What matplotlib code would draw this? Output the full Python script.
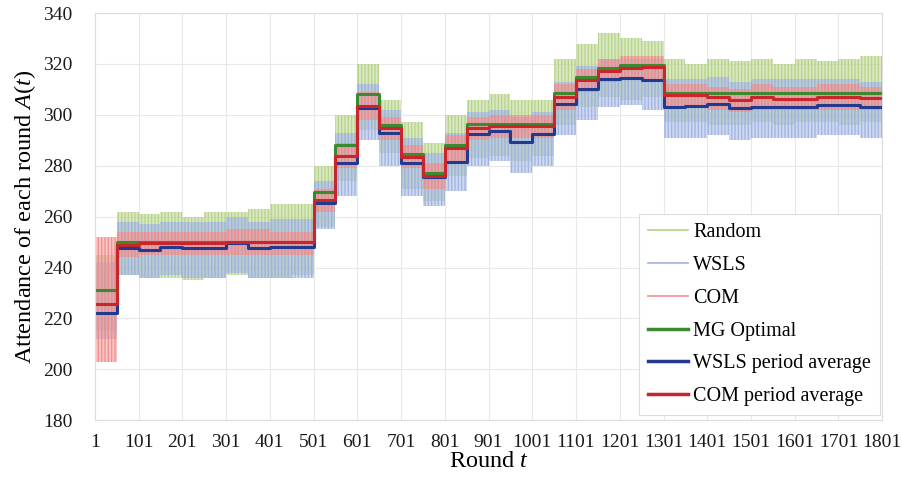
import numpy as np
import matplotlib
matplotlib.use("Agg")
import matplotlib.pyplot as plt
from matplotlib.lines import Line2D

plt.rcParams['font.family'] = ['Liberation Serif', 'DejaVu Serif']
plt.rcParams['mathtext.fontset'] = 'custom'
plt.rcParams['mathtext.rm'] = 'Liberation Serif'
plt.rcParams['mathtext.it'] = 'Liberation Serif:italic'
plt.rcParams['hatch.linewidth'] = 0.9

# one value per 50-round period
period_len = 50
n_periods = 36

mg_optimal = [231, 250, 250, 250, 250, 250, 250, 250, 250, 250,
              269.5, 288, 308, 296, 284.5, 277, 288, 296.5, 296.5, 296.5,
              296.5, 308.5, 315, 318.5, 319.5, 319.5, 308.5, 308.5, 308.5, 308.5,
              308.5, 308.5, 308.5, 308.5, 308.5, 308.5]
wsls_avg = [222, 247.5, 246.9, 248.2, 247.5, 247.5, 249.5, 247.5, 248, 248,
            265.5, 281.2, 302.5, 292.7, 280.9, 275.5, 281.6, 292.5, 293.5, 289.5,
            292.5, 304.2, 310.3, 313.9, 314.3, 313.7, 303.2, 303.6, 304.2, 302.8,
            303.2, 303.2, 303.2, 303.8, 303.8, 302.9]
com_avg = [225.5, 248.8, 249.5, 249.5, 249.5, 249.5, 250, 250, 250, 250,
           266.5, 284, 303.5, 294.7, 283.5, 276, 286.8, 294.7, 295.7, 295.7,
           295.7, 307, 313.7, 317.3, 318.3, 318.7, 307.8, 307.8, 306.9, 305.8,
           307.1, 306.1, 306.1, 307.1, 307.1, 306.5]

# typical range of the per-round attendance in each period
random_low = [215, 237, 236, 236, 235, 236, 237, 236, 236, 237,
              256, 274, 294, 285, 271, 266, 276, 283, 284, 282,
              284, 296, 303, 307, 306, 307, 297, 297, 296, 296,
              297, 296, 297, 297, 296, 297]
random_high = [245, 262, 261, 262, 260, 262, 262, 263, 265, 265,
               280, 300, 320, 306, 297, 289, 300, 306, 308, 306,
               306, 322, 328, 332, 330, 329, 322, 320, 322, 321,
               322, 320, 322, 321, 322, 323]
wsls_low = [212, 237, 236, 237, 236, 236, 238, 236, 236, 236,
            255, 268, 290, 280, 268, 264, 270, 280, 282, 277,
            280, 292, 298, 303, 304, 302, 291, 291, 292, 290,
            291, 291, 291, 292, 292, 291]
wsls_high = [242, 258, 257, 258, 258, 258, 260, 258, 259, 259,
             274, 293, 312, 302, 291, 285, 293, 301, 302, 299,
             301, 313, 319, 322, 322, 322, 314, 314, 315, 313,
             314, 314, 314, 314, 314, 313]
com_low = [203, 244, 245, 245, 245, 245, 245, 245, 245, 245,
           262, 279, 298, 290, 279, 271, 282, 290, 291, 291,
           291, 302, 309, 313, 314, 314, 303, 303, 302, 301,
           302, 302, 302, 302, 302, 302]
com_high = [252, 254, 254, 254, 254, 254, 255, 255, 254, 254,
            271, 289, 309, 299, 288, 281, 292, 299, 300, 300,
            300, 312, 318, 322, 323, 323, 312, 312, 311, 310,
            312, 311, 311, 312, 312, 311]

x_ticks = list(range(1, 1802, 100))

c_random = '#b5d386'
c_wsls = '#9fb3e2'
c_com = '#f28c8c'
c_mg = '#3b8a2f'
c_wsls_avg = '#22398f'
c_com_avg = '#c8262b'

edges = np.arange(n_periods + 1) * period_len + 1


def extend(vals):
    return np.append(vals, vals[-1])


fig = plt.figure(figsize=(9.03, 4.83), dpi=100)
ax = fig.add_axes([0.105, 0.130, 0.872, 0.843])

# noisy per-round series shown as their spread in each period
for lo, hi, col in [(random_low, random_high, c_random),
                    (wsls_low, wsls_high, c_wsls),
                    (com_low, com_high, c_com)]:
    ax.fill_between(edges, extend(lo), extend(hi), step='post',
                    color=col, alpha=0.5, linewidth=0)
    ax.fill_between(edges, extend(lo), extend(hi), step='post',
                    facecolor='none', edgecolor=col, hatch='|||||', linewidth=0)

ax.step(edges, extend(mg_optimal), where='post', color=c_mg, lw=2.2)
ax.step(edges, extend(wsls_avg), where='post', color=c_wsls_avg, lw=2.2)
ax.step(edges, extend(com_avg), where='post', color=c_com_avg, lw=2.2)

ax.set_xlim(1, 1801)
ax.set_ylim(180, 340)
ax.set_xticks(x_ticks)
ax.set_yticks(range(180, 341, 20))
ax.tick_params(length=0, labelsize=14, colors='#1a1a1a')
ax.tick_params(axis='x', pad=10)
ax.tick_params(axis='y', pad=16)
ax.grid(True, color='#e8e8e8', lw=0.8)
ax.set_axisbelow(True)
for s in ax.spines.values():
    s.set_color('#dcdcdc')
    s.set_linewidth(0.8)

ax.set_xlabel('Round $t$', fontsize=17.5, labelpad=0)
ax.set_ylabel('Attendance of each round $A(t)$', fontsize=17.5, labelpad=4)

handles = [Line2D([], [], color=c_random, lw=1.2),
           Line2D([], [], color=c_wsls, lw=1.2),
           Line2D([], [], color=c_com, lw=1.2),
           Line2D([], [], color=c_mg, lw=2.5),
           Line2D([], [], color=c_wsls_avg, lw=2.5),
           Line2D([], [], color=c_com_avg, lw=2.5)]
labels = ['Random', 'WSLS', 'COM', 'MG Optimal', 'WSLS period average', 'COM period average']
leg = ax.legend(handles, labels, loc='lower right', bbox_to_anchor=(0.9975, 0.012),
                borderaxespad=0, fontsize=14.5, fancybox=False, framealpha=1,
                edgecolor='#dcdcdc', handlelength=2.0, handletextpad=0.25,
                labelspacing=0.68, borderpad=0.45)
leg.get_frame().set_linewidth(0.8)

fig.savefig('out.png', dpi=100)
